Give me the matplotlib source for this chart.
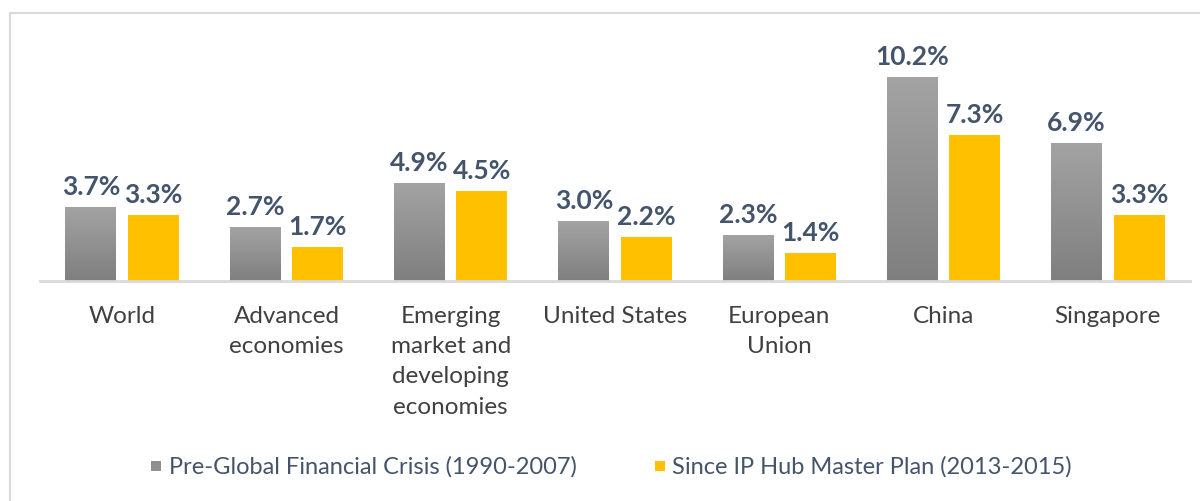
import numpy as np
import matplotlib.pyplot as plt
from matplotlib.patches import Rectangle
from matplotlib.lines import Line2D
from matplotlib.colors import LinearSegmentedColormap

categories = ["World", "Advanced\neconomies", "Emerging\nmarket and\ndeveloping\neconomies",
              "United States", "European\nUnion", "China", "Singapore"]
pre_gfc = [3.7, 2.7, 4.9, 3.0, 2.3, 10.2, 6.9]
since_plan = [3.3, 1.7, 4.5, 2.2, 1.4, 7.3, 3.3]
series_names = ["Pre-Global Financial Crisis (1990-2007)", "Since IP Hub Master Plan (2013-2015)"]

plt.rcParams['font.family'] = ['Lato', 'DejaVu Sans']

W, H = 1200, 502
fig = plt.figure(figsize=(W / 100, H / 100), dpi=100)

# chart frame (only left and top edges visible in the crop)
fig.add_artist(Line2D([10 / W, 10 / W], [0, 1 - 14 / H], color="#D9D9D9", lw=1.5))
fig.add_artist(Line2D([10 / W, 1], [1 - 14 / H, 1 - 14 / H], color="#D9D9D9", lw=1.5))

ax = fig.add_axes([40 / W, 1 - 282 / H, 1150 / W, 262 / H])
x = np.arange(len(categories))
bw = 0.31
off = 0.19

gray_grad = np.linspace(0, 1, 256).reshape(-1, 1)
gcmap = LinearSegmentedColormap.from_list("g", ["#7F7F7F", "#A3A3A3"])

bars1 = ax.bar(x - off, pre_gfc, bw, color="#909090", zorder=2)
bars2 = ax.bar(x + off, since_plan, bw, color="#FFC000", zorder=2)

# vertical gradient on the grey bars
for b in bars1:
    b.set_facecolor("none")
    x0, y0 = b.get_x(), b.get_y()
    im = ax.imshow(gray_grad, cmap=gcmap, aspect="auto", origin="lower",
                   extent=[x0, x0 + b.get_width(), y0, y0 + b.get_height()], zorder=2)
    im.set_clip_path(b)

ax.set_xlim(-0.5, len(categories) - 0.5)
ax.set_ylim(0, 13.1)

for b, v in zip(list(bars1) + list(bars2), pre_gfc + since_plan):
    ax.text(b.get_x() + b.get_width() / 2, v + 0.45, f"{v:.1f}%", ha="center", va="bottom",
            fontsize=19, fontweight="bold", color="#44546A")

for s in ["top", "right", "left"]:
    ax.spines[s].set_visible(False)
ax.spines["bottom"].set_color("#D9D9D9")
ax.spines["bottom"].set_linewidth(2)
ax.set_yticks([])
ax.set_xticks(x)
ax.set_xticklabels(categories, fontsize=17.5, color="#404040", linespacing=1.55, va="top")
ax.tick_params(axis="x", length=0, pad=17)

# legend
ly = 1 - 467 / H
fig.add_artist(Rectangle((151 / W, ly - 5 / H), 10 / W, 10 / H, transform=fig.transFigure,
                         facecolor="#8F8F8F", edgecolor="none"))
fig.text(169 / W, ly, series_names[0], fontsize=17, color="#44546A", va="center", ha="left")
fig.add_artist(Rectangle((655 / W, ly - 5 / H), 10 / W, 10 / H, transform=fig.transFigure,
                         facecolor="#FFC000", edgecolor="none"))
fig.text(672 / W, ly, series_names[1], fontsize=17, color="#44546A", va="center", ha="left")

fig.savefig("out.png", dpi=100)
